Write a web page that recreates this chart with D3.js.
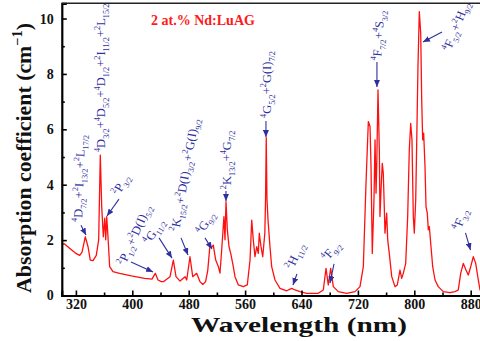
<!DOCTYPE html>
<html><head><meta charset="utf-8">
<script src="https://cdn.jsdelivr.net/npm/d3@7"></script>
<style>html,body{margin:0;padding:0;background:#fff;} svg{display:block;}</style>
</head><body><svg id="chart" width="480" height="341"></svg>
<script>
// ---------- data ----------
const wavelength = [300,304,311,320.6,325.4,328.7,333.3,337.2,340.4,344.3,348.9,352.3,354.6,356.6,358.9,360.9,362.3,363.7,365.5,367.9,372.6,382,398.6,417.6,427.9,432.6,436.5,441.1,444,453.5,458.2,462,467.7,474.8,477.2,481.8,485.7,491.3,496,500,504,507,510.2,512.6,514.9,518.3,522,524.4,526.8,530,531.5,532.9,534.8,537.2,539.6,542.4,545.7,550.4,557.4,563.1,567,569.4,571.6,574,576.5,578.7,580.1,582.6,585,588,589,590,591,592.5,595.3,597.7,602.4,609.5,619,626.1,630.8,637.9,647.4,663.8,670.9,674.8,678,681.4,685.1,692.2,704.1,715.9,723,727.7,731.5,734.8,737.2,738.6,740.4,742.8,744.3,745.7,746.7,748.5,750.4,751.3,753.2,754.6,756,757.4,758.4,760.8,762.3,764.5,768,772.6,775.9,779.7,782.1,784.4,787.8,790.6,792.9,794.9,796.7,798.6,800,802,803.4,805.2,807.1,809.1,810.5,811.9,813.3,815.2,816.6,818.4,819.9,821.3,823.3,826.1,829.4,834,841.1,850.6,857.7,862.4,865.8,869.5,873.3,876.6,880,883.7,887.1,890.8,893.2,900];
const absorption = [1.86,1.86,1.71,1.51,1.45,1.57,2.12,1.76,1.28,1.26,1.45,2.01,5.07,3.21,2.12,2.79,2.01,2.85,2.12,1.04,0.86,0.8,0.71,0.62,0.59,0.8,0.56,0.5,0.5,0.68,1.28,0.68,0.52,0.68,0.56,1.4,0.68,0.8,0.5,0.4,0.5,0.9,1.82,1.74,1.82,1.28,1.05,0.81,1.65,2.85,2.01,3.39,2.37,1.76,1.52,1.16,0.68,0.38,0.32,0.38,1.28,2.72,2.01,1.4,1.76,1.52,2.25,1.76,1.4,2.25,3.5,5.7,3.5,2.73,1.76,1.04,0.56,0.26,0.17,0.26,0.2,0.14,0.08,0.08,0.2,0.98,0.38,0.98,0.32,0.14,0.08,0.14,0.32,1.04,4.05,6.28,6.1,4.65,1.52,3.45,5.62,3.69,4.65,7.42,5.25,2.85,4.05,4.77,4.41,3.21,2.25,2.97,2.01,1.52,0.68,0.32,0.38,0.92,0.62,0.8,1.16,2.85,5.25,6.21,5.62,2.85,2.25,3.45,5.5,8.26,10.25,9.47,7.06,5.62,5.86,4.65,3.21,2.97,2.37,2.49,1.88,1.04,0.56,0.32,0.14,0.1,0.14,0.2,0.8,1.16,0.92,0.74,1.04,1.4,1.16,0.56,0.2,0.1];
const xTickValues = [320,400,480,560,640,720,800,880];
const yTickValues = [0,2,4,6,8,10];
const titleText = "2 at.% Nd:LuAG";
const xAxisTitle = "Wavelength (nm)";
const yAxisTitle = "Absorption coefficient (cm^−1)";
const transitionLabels = [
  "^4D_7/2+^2I_13/2+^2L_17/2",
  "^4D_3/2+^4D_5/2+^4D_1/2+^2I_11/2+^2L_15/2",
  "^2P_3/2",
  "^2P_1/2+^2D(I)_5/2",
  "^4G_11/2",
  "^2K_15/2+^2D(I)_3/2+^2G(I)_9/2",
  "^4G_9/2",
  "^2K_13/2+^4G_7/2",
  "^4G_5/2+^2G(I)_7/2",
  "^2H_11/2",
  "^4F_9/2",
  "^4F_7/2+^4S_3/2",
  "^4F_5/2+^2H_9/2",
  "^4F_3/2"
];
// ---------- layout (data units) ----------
const labelLayout = [
  {t:[328.7,2.65], r:-88, a:[327.2,2.54,334.3,2.18]},
  {t:[361.3,5.18], r:-90, a:null},
  {t:[381.1,3.59], r:-60, a:[381.1,3.48,364.1,2.87]},
  {t:[389.6,1.06], r:-66, a:[398.2,1.21,429.4,0.85]},
  {t:[425.1,1.82], r:-58, a:[437.9,2.08,456.3,1.35]},
  {t:[466.2,2.30], r:-80, a:[469.1,2.08,479.0,1.46]},
  {t:[500.3,2.18], r:-60, a:[503.1,2.08,513.0,1.68]},
  {t:[540.0,3.84], r:-90, a:[532.9,3.77,532.9,3.41]},
  {t:[596.7,6.41], r:-90, a:[589.6,6.30,589.6,5.72]},
  {t:[628.0,0.92], r:-65, a:[633.6,0.78,627.9,0.38]},
  {t:[676.4,1.21], r:-50, a:[686.1,1.14,680.4,0.45]},
  {t:[752.6,8.47], r:-86, a:[747.0,8.43,747.0,7.53]},
  {t:[851.0,8.79], r:-68, a:[839.3,9.51,812.3,9.15]},
  {t:[865.5,2.33], r:-70, a:[872.6,2.26,879.7,1.64]}
];

// ---------- drawing ----------
const svg = d3.select("#chart");
const serif = "'Liberation Serif','Times New Roman',Times,serif";
const blue = "#2f2fa0";
const x = d3.scaleLinear().domain([300, 900]).range([61.8, 484.8]);
const y = d3.scaleLinear().domain([0, 10.55]).range([295.5, 3.3]);

const defs = svg.append("defs");
defs.append("marker").attr("id","ah").attr("viewBox","0 0 7 6")
  .attr("refX",7).attr("refY",3).attr("markerWidth",7).attr("markerHeight",6)
  .attr("markerUnits","userSpaceOnUse").attr("orient","auto")
  .append("path").attr("d","M0,0L7,3L0,6Z").attr("fill",blue);
defs.append("clipPath").attr("id","clip").append("rect")
  .attr("x",x(300)).attr("y",y(10.55)).attr("width",x(900)-x(300)).attr("height",y(0)-y(10.55));

function rich(sel, str, F) {
  const re = /\^([0-9\u2212\-]+)|_([0-9\/]+)|([^\^_]+)/g;
  let m, cur = 0;
  while ((m = re.exec(str))) {
    let target, size, txt;
    if (m[1]) { target = -F*0.42; size = F*0.66; txt = m[1]; }
    else if (m[2]) { target = F*0.3; size = F*0.66; txt = m[2]; }
    else { target = 0; size = F; txt = m[3]; }
    sel.append("tspan").attr("dy", (target-cur).toFixed(2)).attr("font-size", size).text(txt);
    cur = target;
  }
}

// spectrum
const line = d3.line().x((d,i)=>x(wavelength[i])).y(d=>y(d));
svg.append("path").datum(absorption).attr("clip-path","url(#clip)")
  .attr("d", line).attr("fill","none").attr("stroke","#ff1010").attr("stroke-width",1.3)
  .attr("stroke-linejoin","round");

// axes
const xAxis = d3.axisBottom(x).tickValues(xTickValues).tickSize(-5).tickPadding(4).tickFormat(d3.format("d"));
svg.append("g").attr("transform",`translate(0,${y(0)})`).call(xAxis);
const xMinor = d3.axisBottom(x).tickValues(d3.range(360, 900, 80)).tickSize(-3).tickFormat("");
svg.append("g").attr("transform",`translate(0,${y(0)})`).call(xMinor).select(".domain").remove();
const yAxis = d3.axisLeft(y).tickValues(yTickValues).tickSize(-5).tickPadding(8);
svg.append("g").attr("transform",`translate(${x(300)},0)`).call(yAxis);
const yMinor = d3.axisLeft(y).tickValues([1,3,5,7,9]).tickSize(-3).tickFormat("");
svg.append("g").attr("transform",`translate(${x(300)},0)`).call(yMinor).select(".domain").remove();
svg.selectAll(".domain").attr("stroke","#000").attr("stroke-width",2.2);
svg.selectAll(".tick line").attr("stroke","#000").attr("stroke-width",1.6);
svg.selectAll(".tick text").attr("font-family",serif).attr("font-weight","bold")
  .attr("font-size",14).attr("fill","#111");
// top frame
svg.append("line").attr("x1",x(300)).attr("x2",480).attr("y1",y(10.55)).attr("y2",y(10.55))
  .attr("stroke","#222").attr("stroke-width",1.6);

// titles
svg.append("text").attr("x",203).attr("y",25).attr("text-anchor","middle")
  .attr("font-family",serif).attr("font-weight","bold").attr("font-size",14)
  .attr("fill","#ff1a1a").text(titleText);
svg.append("text").attr("x",299).attr("y",332).attr("text-anchor","middle")
  .attr("font-family",serif).attr("font-weight","bold").attr("font-size",22)
  .attr("textLength",216).attr("lengthAdjust","spacingAndGlyphs")
  .attr("fill","#111").text(xAxisTitle);
const yt = svg.append("text").attr("transform","translate(31,158) rotate(-90)")
  .attr("text-anchor","middle").attr("font-family",serif).attr("font-weight","bold")
  .attr("fill","#111").attr("font-size",21);
rich(yt, yAxisTitle, 21);
yt.attr("textLength",270).attr("lengthAdjust","spacingAndGlyphs");

// annotations
const ann = svg.append("g");
transitionLabels.forEach((lab, i) => {
  const L = labelLayout[i];
  const t = ann.append("text")
    .attr("transform",`translate(${x(L.t[0])},${y(L.t[1])}) rotate(${L.r})`)
    .attr("font-family",serif).attr("fill",blue).attr("font-size",12.5);
  rich(t, lab, 12.5);
  if (L.a) {
    ann.append("line").attr("x1",x(L.a[0])).attr("y1",y(L.a[1]))
      .attr("x2",x(L.a[2])).attr("y2",y(L.a[3]))
      .attr("stroke",blue).attr("stroke-width",1.1).attr("marker-end","url(#ah)");
  }
});
</script></body></html>
